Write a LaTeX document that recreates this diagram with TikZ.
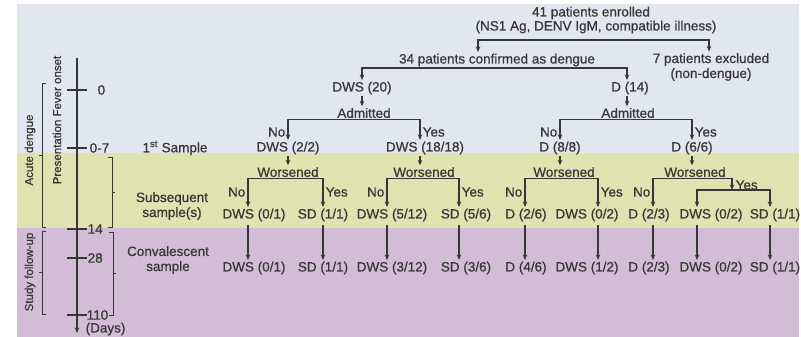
\documentclass[tikz,border=0pt]{standalone}
\usepackage{fontspec}
\setmainfont{Liberation Sans}[FakeBold=0.6]
\usetikzlibrary{arrows.meta,calc}
\definecolor{bgblue}{HTML}{E2E6EF}
\definecolor{bggreen}{HTML}{DDE4B0}
\definecolor{bgpurple}{HTML}{D3BDD6}
\definecolor{ink}{HTML}{363636}
\begin{document}
\begin{tikzpicture}[x=1pt,y=-1pt,
  lbl/.style={font=\fontsize{13.5}{15}\selectfont, text=ink, inner sep=1.5pt},
  yn/.style={lbl, inner sep=0.5pt},
  side/.style={font=\fontsize{11.5}{13}\selectfont, text=ink, inner sep=0pt, rotate=90},
  line/.style={draw=ink, line width=1.2pt},
  thinline/.style={draw=ink, line width=0.8pt},
  arr/.style={line, -{Stealth[length=5.5pt,width=4.5pt]}}]
\useasboundingbox (0,0) rectangle (801,337);
% background bands
\fill[white] (0,0) rectangle (801,337);
\fill[bgblue] (17,4) rectangle (799,153);
\fill[bggreen] (17,153) rectangle (799,228);
\fill[bgpurple] (17,228) rectangle (799,337);

% time axis
\coordinate (axtop) at (77,58);
\coordinate (axbot) at (77,333);
\draw[arr] (axtop) -- (axbot);
\foreach \y in {90,148,229,258,315} \draw[line] (67,\y) -- (87,\y);
\node[lbl, anchor=west] (t0) at (96,90) {0};
\node[lbl, anchor=west] (t7) at (88,148) {0-7};
\node[lbl, anchor=west] (t14) at (86,229) {14};
\node[lbl, anchor=west] (t28) at (86,258) {28};
\node[lbl, anchor=west] (t110) at (85,315) {110};
\node[lbl, anchor=west] (tdays) at (84,329) {(Days)};

% period brackets
\draw[thinline] (46,83) -- (42,83) -- (42,227) -- (46,227);
\draw[thinline] (42,155) -- (39,155);
\draw[thinline] (46,231) -- (42,231) -- (42,314) -- (46,314);
\draw[thinline] (42,272) -- (39,272);
\draw[thinline] (108,157) -- (112,157) -- (112,227) -- (108,227);
\draw[thinline] (112,192) -- (115,192);
\draw[thinline] (109,232) -- (113,232) -- (113,315) -- (109,315);
\draw[thinline] (113,273) -- (116,273);
\node[side] (acute) at (30,150) {Acute dengue};
\node[side] (pres) at (57,120) {Presentation Fever onset};
\node[side] (study) at (30,272) {Study follow-up};

% sample labels
\node[lbl] (first) at (175,148) {1\textsuperscript{st} Sample};
\node[lbl, align=center] (subs) at (172,206) {Subsequent\\sample(s)};
\node[lbl, align=center] (conv) at (168,260) {Convalescent\\sample};

% arrow columns
\foreach \n/\x in {cL/478,cR/709,c20/362,c14/627,c1/288,c2/420,c3/560,c4/692,
                   xA1/248,xA2/323,xB1/387,xB2/459,xC1/525,xC2/598,xD1/653,xD2/697,xD3/770}
  \coordinate (\n) at (\x,0);

% enrolment
\node[lbl] (enr1) at (591,13) {41 patients enrolled};
\node[lbl] (enr2) at (596,27) {(NS1 Ag, DENV IgM, compatible illness)};
\coordinate (split0) at (596,40);
\node[lbl] (conf) at (497,60) {34 patients confirmed as dengue};
\node[lbl, align=center] (excl) at (711,67) {7 patients excluded\\(non-dengue)};
\draw[arr] (split0) -| (conf.north -| cL);
\draw[arr] (split0) -| (excl.north -| cR);

% dengue classes
\node[lbl] (dws20) at (362,88) {DWS (20)};
\node[lbl] (d14) at (630,88) {D (14)};
\draw[arr] (conf.south) -| (dws20.north -| c20);
\draw[arr] (conf.south) -| (d14.north -| c14);

% admission
\node[lbl] (admA) at (364,113) {Admitted};
\node[lbl] (admB) at (628,113) {Admitted};
\draw[arr] (dws20.south) -- (admA.north -| c20);
\draw[arr] (d14.south -| c14) -- (admB.north -| c14);

\node[lbl] (f1) at (288,148) {DWS (2/2)};
\node[lbl] (f2) at (425,148) {DWS (18/18)};
\node[lbl] (f3) at (560,148) {D (8/8)};
\node[lbl] (f4) at (692,148) {D (6/6)};
\draw[arr] (admA.south) -| (f1.north -| c1);
\draw[arr] (admA.south) -| (f2.north -| c2);
\draw[arr] (admB.south) -| (f3.north -| c3);
\draw[arr] (admB.south) -| (f4.north -| c4);
\node[yn, anchor=east] (n1) at (286,132) {No};
\node[yn, anchor=west] (y1) at (422,132) {Yes};
\node[yn, anchor=east] (n2) at (558,132) {No};
\node[yn, anchor=west] (y2) at (694,132) {Yes};

% worsening
\node[lbl] (wA) at (288,172) {Worsened};
\node[lbl] (wB) at (424,172) {Worsened};
\node[lbl] (wC) at (564,172) {Worsened};
\node[lbl] (wD) at (695,172) {Worsened};
\draw[arr] (f1.south -| c1) -- (wA.north -| c1);
\draw[arr] (f2.south -| c2) -- (wB.north -| c2);
\draw[arr] (f3.south -| c3) -- (wC.north -| c3);
\draw[arr] (f4.south -| c4) -- (wD.north -| c4);

% subsequent samples
\node[lbl] (sA1) at (254,215) {DWS (0/1)};
\node[lbl] (sA2) at (323,215) {SD (1/1)};
\node[lbl] (sB1) at (392,215) {DWS (5/12)};
\node[lbl] (sB2) at (466,215) {SD (5/6)};
\node[lbl] (sC1) at (526,215) {D (2/6)};
\node[lbl] (sC2) at (587,215) {DWS (0/2)};
\node[lbl] (sD1) at (649,215) {D (2/3)};
\node[lbl] (sD2) at (711,215) {DWS (0/2)};
\node[lbl] (sD3) at (775,215) {SD (1/1)};

\draw[arr] (wA.south) -| (sA1.north -| xA1);
\draw[arr] (wA.south) -| (sA2.north -| xA2);
\draw[arr] (wB.south) -| (sB1.north -| xB1);
\draw[arr] (wB.south) -| (sB2.north -| xB2);
\draw[arr] (wC.south) -| (sC1.north -| xC1);
\draw[arr] (wC.south) -| (sC2.north -| xC2);
\draw[arr] (wD.south) -| (sD1.north -| xD1);
\coordinate (split2) at (732,190);
\draw[arr] (wD.south) -| (split2);
\draw[arr] (split2) -| (sD2.north -| xD2);
\draw[arr] (split2) -| (sD3.north -| xD3);

\node[yn, anchor=east] (nA) at (246,192) {No};
\node[yn, anchor=west] (yA) at (325,192) {Yes};
\node[yn, anchor=east] (nB) at (385,192) {No};
\node[yn, anchor=west] (yB) at (461,192) {Yes};
\node[yn, anchor=east] (nC) at (523,192) {No};
\node[yn, anchor=west] (yC) at (600,192) {Yes};
\node[yn, anchor=east] (nD) at (651,192) {No};
\node[yn, anchor=west] (yD) at (735,185) {Yes};

% convalescent samples
\node[lbl] (cA1) at (254,268) {DWS (0/1)};
\node[lbl] (cA2) at (323,268) {SD (1/1)};
\node[lbl] (cB1) at (392,268) {DWS (3/12)};
\node[lbl] (cB2) at (466,268) {SD (3/6)};
\node[lbl] (cC1) at (526,268) {D (4/6)};
\node[lbl] (cC2) at (587,268) {DWS (1/2)};
\node[lbl] (cD1) at (649,268) {D (2/3)};
\node[lbl] (cD2) at (711,268) {DWS (0/2)};
\node[lbl] (cD3) at (775,268) {SD (1/1)};
\foreach \s/\c/\x in {sA1/cA1/xA1,sA2/cA2/xA2,sB1/cB1/xB1,sB2/cB2/xB2,sC1/cC1/xC1,
                      sC2/cC2/xC2,sD1/cD1/xD1,sD2/cD2/xD2,sD3/cD3/xD3}
  \draw[arr] ([yshift=-2pt]\s.south -| \x) -- (\c.north -| \x);
\end{tikzpicture}
\end{document}
